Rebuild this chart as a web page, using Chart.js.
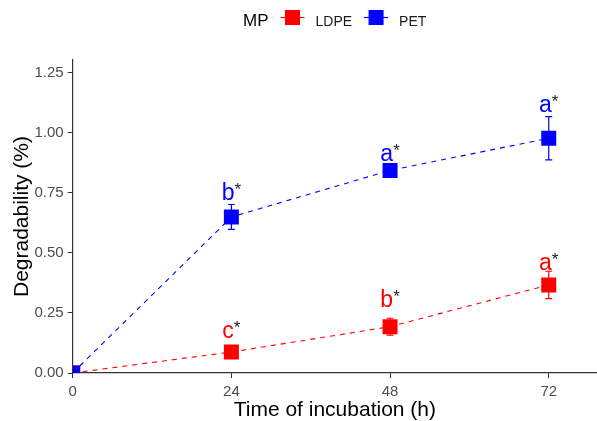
<!DOCTYPE html>
<html>
<head>
<meta charset="utf-8">
<script src="https://cdn.jsdelivr.net/npm/chart.js@4.4.0/dist/chart.umd.min.js"></script>
<style>
  html, body { margin: 0; padding: 0; background: #fff; }
  canvas { display: block; }
</style>
</head>
<body>
<canvas id="chart" width="597" height="421"></canvas>
<script>
// incubation times (h)
const hours = [0, 24, 48, 72];

// LDPE degradability (%), sd and significance letters
const ldpeMean = [0, 0.0875, 0.193, 0.367];
const ldpeSd = [0, 0.01, 0.035, 0.057];
const ldpeLetters = ['', 'c', 'b', 'a'];
const ldpeLabelY = [0, 0.146, 0.275, 0.429];

// PET degradability (%), sd and significance letters
const petMean = [0, 0.65, 0.844, 0.978];
const petSd = [0, 0.052, 0.01, 0.09];
const petLetters = ['', 'b', 'a', 'a'];
const petLabelY = [0, 0.721, 0.883, 1.0875];

const xTicks = [0, 24, 48, 72];
const yTicks = [0, 0.25, 0.5, 0.75, 1, 1.25];

const FONT = "'Liberation Sans', Arial, sans-serif";

const series = [
    { name: 'LDPE', color: '#FF0000', mean: ldpeMean, sd: ldpeSd, letters: ldpeLetters, labelY: ldpeLabelY },
    { name: 'PET', color: '#0000FF', mean: petMean, sd: petSd, letters: petLetters, labelY: petLabelY }
];

const errorBars = {
    id: 'errorBars',
    afterDatasetsDraw(chart) {
        const ctx = chart.ctx;
        const xs = chart.scales.x;
        const ys = chart.scales.y;
        ctx.save();
        ctx.lineWidth = 1.2;
        series.forEach(s => {
            ctx.strokeStyle = s.color;
            s.mean.forEach((m, i) => {
                if (!s.sd[i]) return;
                const px = xs.getPixelForValue(hours[i]);
                const top = ys.getPixelForValue(m + s.sd[i]);
                const bot = ys.getPixelForValue(m - s.sd[i]);
                ctx.beginPath();
                ctx.moveTo(px, top);
                ctx.lineTo(px, bot);
                ctx.moveTo(px - 3.5, top);
                ctx.lineTo(px + 3.5, top);
                ctx.moveTo(px - 3.5, bot);
                ctx.lineTo(px + 3.5, bot);
                ctx.stroke();
            });
        });
        ctx.restore();
    }
};

const letterLabels = {
    id: 'letterLabels',
    afterDatasetsDraw(chart) {
        const ctx = chart.ctx;
        const xs = chart.scales.x;
        const ys = chart.scales.y;
        ctx.save();
        ctx.textAlign = 'left';
        ctx.textBaseline = 'alphabetic';
        series.forEach(s => {
            s.letters.forEach((letter, i) => {
                if (!letter) return;
                const px = xs.getPixelForValue(hours[i]);
                const py = ys.getPixelForValue(s.labelY[i]);
                ctx.font = `23px ${FONT}`;
                const wl = ctx.measureText(letter).width;
                ctx.font = `17px ${FONT}`;
                const ws = ctx.measureText('*').width;
                const x0 = px - (wl + ws) / 2;
                ctx.font = `23px ${FONT}`;
                ctx.fillStyle = s.color;
                ctx.fillText(letter, x0, py);
                ctx.font = `17px ${FONT}`;
                ctx.fillStyle = '#1a1a1a';
                ctx.fillText('*', x0 + wl, py - 4.6);
            });
        });
        ctx.restore();
    }
};

const mpLegend = {
    id: 'mpLegend',
    afterDraw(chart) {
        const ctx = chart.ctx;
        const base = 25.7;
        const cy = 17.5;
        let x = 243;
        ctx.save();
        ctx.textAlign = 'left';
        ctx.textBaseline = 'alphabetic';
        ctx.fillStyle = '#000';
        ctx.font = `17px ${FONT}`;
        ctx.fillText('MP', x, base);
        x += ctx.measureText('MP').width + 12;
        series.forEach(s => {
            ctx.strokeStyle = s.color;
            ctx.lineWidth = 1.2;
            ctx.beginPath();
            ctx.moveTo(x, cy);
            ctx.lineTo(x + 24, cy);
            ctx.stroke();
            ctx.fillStyle = s.color;
            ctx.fillRect(x + 4.5, cy - 7.5, 15, 15);
            x += 24 + 11;
            ctx.fillStyle = '#1a1a1a';
            ctx.font = `14px ${FONT}`;
            ctx.fillText(s.name, x, base);
            x += ctx.measureText(s.name).width + 12;
        });
        ctx.restore();
    }
};

new Chart(document.getElementById('chart'), {
    type: 'scatter',
    data: {
        datasets: series.map((s, k) => ({
            label: s.name,
            data: hours.map((h, i) => ({ x: h, y: s.mean[i] })),
            showLine: true,
            borderColor: s.color,
            borderWidth: 1.1,
            borderDash: [5, 5],
            tension: 0,
            pointStyle: 'rect',
            pointRadius: 10.6,
            pointHoverRadius: 10.6,
            pointBorderWidth: 0,
            pointBackgroundColor: s.color,
            clip: 0,
            order: series.length - k
        }))
    },
    options: {
        responsive: false,
        animation: false,
        devicePixelRatio: 1,
        layout: { autoPadding: false, padding: { top: 60, left: 0, right: 0, bottom: 0 } },
        plugins: {
            legend: { display: false },
            tooltip: { enabled: false }
        },
        scales: {
            x: {
                type: 'linear',
                min: 0,
                max: 79.3,
                afterBuildTicks: s => { s.ticks = xTicks.map(v => ({ value: v })); },
                afterFit: s => {
                    s.height = 48;
                    s.paddingLeft = 0;
                    s.paddingRight = 0;
                },
                ticks: {
                    color: '#4D4D4D',
                    font: { family: FONT, size: 15 },
                    padding: 5,
                    maxRotation: 0
                },
                grid: { drawOnChartArea: false, drawTicks: true, tickLength: 5, color: '#333' },
                border: { display: true, color: '#333', width: 1.2 },
                title: {
                    display: true,
                    text: 'Time of incubation (h)',
                    color: '#000',
                    font: { family: FONT, size: 21, lineHeight: 1 },
                    padding: { top: 0, bottom: 0 }
                }
            },
            y: {
                type: 'linear',
                min: 0,
                max: 1.304,
                afterBuildTicks: s => { s.ticks = yTicks.map(v => ({ value: v })); },
                afterFit: s => { s.width = 72.7; },
                ticks: {
                    color: '#4D4D4D',
                    font: { family: FONT, size: 15 },
                    padding: 4,
                    callback: v => Number(v).toFixed(2)
                },
                grid: { drawOnChartArea: false, drawTicks: true, tickLength: 5, color: '#333' },
                border: { display: true, color: '#333', width: 1.2 },
                title: {
                    display: true,
                    text: 'Degradability (%)',
                    color: '#000',
                    font: { family: FONT, size: 21, lineHeight: 1 },
                    padding: { top: 11.5, bottom: 0 }
                }
            }
        }
    },
    plugins: [errorBars, letterLabels, mpLegend]
});
</script>
</body>
</html>
